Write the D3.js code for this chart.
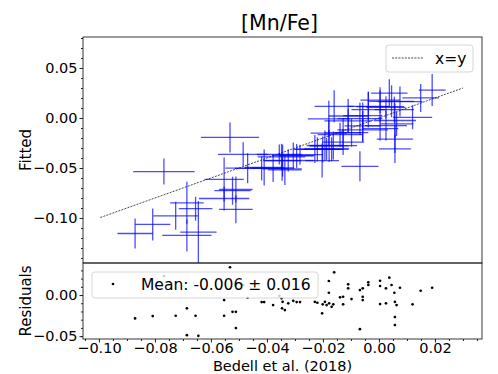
<!DOCTYPE html>
<html>
<head>
<meta charset="utf-8">
<script src="https://d3js.org/d3.v7.min.js"></script>
<style>
body { margin: 0; background: #fff; }
text { font-family: "DejaVu Sans", sans-serif; }
</style>
</head>
<body>
<div id="chart"></div>
<script>
// Bedell et al. (2018) values and errors
var bedell = [-0.0871, -0.0808, -0.0726, -0.0686, -0.0655, -0.0686, -0.0645, -0.0532, -0.0553, -0.0553,
  -0.0523, -0.0511, -0.0511, -0.0485, -0.0469, -0.0419, -0.0410, -0.0378, -0.0356, -0.0348,
  -0.0344, -0.0346, -0.0336, -0.0324, -0.0306, -0.0294, -0.0282, -0.0229, -0.0220, -0.0203,
  -0.0201, -0.0193, -0.0187, -0.0178, -0.0169, -0.0163, -0.0179, -0.0179, -0.0160, -0.0139,
  -0.0128, -0.0128, -0.0110, -0.0110, -0.0098, -0.0068, -0.0058, -0.0058, -0.0058, -0.0068,
  -0.0038, -0.0038, 0.0004, 0.0004, 0.0004, 0.0025, 0.0025, 0.0037, 0.0045, 0.0055,
  0.0057, 0.0063, 0.0057, 0.0057, 0.0075, 0.0120, 0.0149, 0.0190, -0.0768];
var bedellErr = [0.0063, 0.0063, 0.0080, 0.0060, 0.0060, 0.0088, 0.0065, 0.0104, 0.0070, 0.0090,
  0.0065, 0.0060, 0.0060, 0.0090, 0.0080, 0.0095, 0.0070, 0.0075, 0.0080, 0.0085,
  0.0065, 0.0070, 0.0060, 0.0090, 0.0075, 0.0060, 0.0080, 0.0070, 0.0085, 0.0060,
  0.0075, 0.0065, 0.0080, 0.0070, 0.0060, 0.0085, 0.0075, 0.0065, 0.0070, 0.0080,
  0.0065, 0.0075, 0.0070, 0.0085, 0.0060, 0.0080, 0.0070, 0.0065, 0.0090, 0.0066,
  0.0075, 0.0060, 0.0070, 0.0085, 0.0065, 0.0075, 0.0070, 0.0065, 0.0080, 0.0070,
  0.0075, 0.0060, 0.0065, 0.0057, 0.0080, 0.0070, 0.0065, 0.0048, 0.0110];
// fitted values and errors
var fitted = [-0.1155, -0.1064, -0.0978, -0.0848, -0.0907, -0.1174, -0.1141, -0.0194, -0.0614, -0.0805,
  -0.0727, -0.0715, -0.0913, -0.0363, -0.0502, -0.0504, -0.0495, -0.0500, -0.0365, -0.0388,
  -0.0426, -0.0508, -0.0519, -0.0425, -0.0376, -0.0379, -0.0367, -0.0311, -0.0314, -0.0426,
  -0.0314, -0.0275, -0.0309, -0.0279, -0.0312, -0.0276, -0.0008, -0.0151, 0.0117, -0.0167,
  -0.0149, -0.0241, 0.0020, -0.0028, -0.0147, -0.0007, 0.0024, -0.0079, -0.0119, -0.0483,
  0.0117, 0.0084, 0.0178, 0.0114, -0.0106, -0.0076, 0.0107, 0.0248, 0.0167, 0.0083,
  -0.0025, -0.0059, -0.0211, -0.0309, 0.0164, 0.0007, 0.0201, 0.0279, -0.0536];
var fittedErr = [0.015, 0.016, 0.014, 0.021, 0.012, 0.016, 0.031, 0.015, 0.022, 0.012,
  0.014, 0.013, 0.014, 0.012, 0.015, 0.012, 0.018, 0.014, 0.010, 0.013,
  0.016, 0.012, 0.015, 0.011, 0.013, 0.012, 0.010, 0.014, 0.012, 0.017,
  0.013, 0.015, 0.011, 0.016, 0.012, 0.014, 0.018, 0.013, 0.016, 0.012,
  0.015, 0.013, 0.017, 0.012, 0.014, 0.016, 0.013, 0.015, 0.012, 0.015,
  0.014, 0.018, 0.013, 0.016, 0.012, 0.015, 0.011, 0.014, 0.016, 0.013,
  0.017, 0.012, 0.014, 0.014, 0.015, 0.012, 0.014, 0.016, 0.013];

var xTicks = [-0.10, -0.08, -0.06, -0.04, -0.02, 0.00, 0.02];
var fitTicks = [-0.10, -0.05, 0.00, 0.05];
var resTicks = [-0.05, 0.00];
var identityLine = [-0.0995, 0.0300];
var meanLabel = "Mean: -0.006 \u00b1 0.016";

var w = 498, h = 374;
var left = 83, right = 482, top1 = 37, bot1 = 263, top2 = 263, bot2 = 339;

var svg = d3.select("#chart").append("svg")
  .attr("width", w)
  .attr("height", h);

var x = d3.scaleLinear().domain([-0.1057, 0.0368]).range([left, right]);
var y1 = d3.scaleLinear().domain([-0.145, 0.081]).range([bot1, top1]);
var y2 = d3.scaleLinear().domain([-0.0535, 0.039]).range([bot2, top2]);

var fmt = d3.format(".2f");
var ink = "#222";

var defs = svg.append("defs");
defs.append("clipPath").attr("id", "clip1").append("rect")
  .attr("x", left).attr("y", top1).attr("width", right - left).attr("height", bot1 - top1);
defs.append("clipPath").attr("id", "clip2").append("rect")
  .attr("x", left).attr("y", top2).attr("width", right - left).attr("height", bot2 - top2);

// ---- top panel: fitted vs Bedell
var g1 = svg.append("g").attr("clip-path", "url(#clip1)");

g1.append("line")
  .attr("x1", x(identityLine[0])).attr("y1", y1(identityLine[0]))
  .attr("x2", x(identityLine[1])).attr("y2", y1(identityLine[1]))
  .attr("stroke", "#333")
  .attr("stroke-width", 0.9)
  .attr("stroke-dasharray", "2,1.2");

var idx = d3.range(bedell.length);

g1.selectAll(".xerr")
  .data(idx)
  .enter()
  .append("line")
  .attr("class", "xerr")
  .attr("x1", function(i) { return x(bedell[i] - bedellErr[i]); })
  .attr("x2", function(i) { return x(bedell[i] + bedellErr[i]); })
  .attr("y1", function(i) { return y1(fitted[i]); })
  .attr("y2", function(i) { return y1(fitted[i]); })
  .attr("stroke", "blue")
  .attr("stroke-opacity", 0.7)
  .attr("stroke-width", 1.3);

g1.selectAll(".yerr")
  .data(idx)
  .enter()
  .append("line")
  .attr("class", "yerr")
  .attr("x1", function(i) { return x(bedell[i]); })
  .attr("x2", function(i) { return x(bedell[i]); })
  .attr("y1", function(i) { return y1(fitted[i] - fittedErr[i]); })
  .attr("y2", function(i) { return y1(fitted[i] + fittedErr[i]); })
  .attr("stroke", "blue")
  .attr("stroke-opacity", 0.7)
  .attr("stroke-width", 1.3);

// ---- bottom panel: residuals
var g2 = svg.append("g").attr("clip-path", "url(#clip2)");
g2.selectAll("circle")
  .data(idx)
  .enter()
  .append("circle")
  .attr("cx", function(i) { return x(bedell[i]); })
  .attr("cy", function(i) { return y2(fitted[i] - bedell[i]); })
  .attr("r", 1.35)
  .attr("fill", "black");

// ---- axes
function styleAxis(sel) {
  sel.select(".domain").remove();
  sel.selectAll(".tick line").attr("stroke", ink);
  sel.selectAll(".tick text")
    .attr("fill", "black")
    .style("font-size", "14.5px")
    .style("font-family", "DejaVu Sans");
}

svg.append("g")
  .attr("transform", "translate(0," + bot2 + ")")
  .call(d3.axisBottom(x).tickValues(xTicks).tickFormat(fmt).tickSize(3.5).tickPadding(0.5))
  .call(styleAxis);

svg.append("g")
  .attr("transform", "translate(" + left + ",0)")
  .call(d3.axisLeft(y1).tickValues(fitTicks).tickFormat(fmt).tickSize(3.5).tickPadding(2))
  .call(styleAxis);

svg.append("g")
  .attr("transform", "translate(" + left + ",0)")
  .call(d3.axisLeft(y2).tickValues(resTicks).tickFormat(fmt).tickSize(3.5).tickPadding(2))
  .call(styleAxis);

// minor ticks
var xMinor = d3.range(-21, 8).map(function(k) { return k * 0.005; });
svg.append("g")
  .attr("transform", "translate(0," + bot2 + ")")
  .call(d3.axisBottom(x).tickValues(xMinor).tickFormat("").tickSize(2))
  .call(function(s) { s.select(".domain").remove(); s.selectAll("line").attr("stroke", ink); });

var y1Minor = d3.range(-14, 9).map(function(k) { return k * 0.01; });
svg.append("g")
  .attr("transform", "translate(" + left + ",0)")
  .call(d3.axisLeft(y1).tickValues(y1Minor).tickFormat("").tickSize(2))
  .call(function(s) { s.select(".domain").remove(); s.selectAll("line").attr("stroke", ink); });

var y2Minor = d3.range(-5, 4).map(function(k) { return k * 0.01; });
svg.append("g")
  .attr("transform", "translate(" + left + ",0)")
  .call(d3.axisLeft(y2).tickValues(y2Minor).tickFormat("").tickSize(2))
  .call(function(s) { s.select(".domain").remove(); s.selectAll("line").attr("stroke", ink); });

// frames
svg.append("rect")
  .attr("x", left).attr("y", top1).attr("width", right - left).attr("height", bot1 - top1)
  .attr("fill", "none").attr("stroke", ink).attr("stroke-width", 0.9);
svg.append("rect")
  .attr("x", left).attr("y", top2).attr("width", right - left).attr("height", bot2 - top2)
  .attr("fill", "none").attr("stroke", ink).attr("stroke-width", 0.9);

// ---- legends
svg.append("rect")
  .attr("x", 386).attr("y", 45).attr("width", 87).attr("height", 27).attr("rx", 3)
  .attr("fill", "white").attr("fill-opacity", 0.8)
  .attr("stroke", "#ccc").attr("stroke-width", 0.8);
svg.append("line")
  .attr("x1", 392).attr("x2", 423).attr("y1", 58).attr("y2", 58)
  .attr("stroke", "#333").attr("stroke-width", 0.9).attr("stroke-dasharray", "2,1.2");
svg.append("text")
  .attr("x", 435).attr("y", 64)
  .style("font-size", "15.5px")
  .text("x=y");

svg.append("rect")
  .attr("x", 92).attr("y", 272).attr("width", 226).attr("height", 26).attr("rx", 3)
  .attr("fill", "white").attr("fill-opacity", 0.8)
  .attr("stroke", "#ccc").attr("stroke-width", 0.8);
svg.append("circle")
  .attr("cx", 113).attr("cy", 284).attr("r", 1.35).attr("fill", "black");
svg.append("text")
  .attr("x", 141).attr("y", 290)
  .style("font-size", "15.5px")
  .text(meanLabel);

// ---- titles and labels
svg.append("text")
  .attr("x", (left + right) / 2 - 3).attr("y", 30)
  .attr("text-anchor", "middle")
  .style("font-size", "20.5px")
  .text("[Mn/Fe]");

svg.append("text")
  .attr("x", (left + right) / 2).attr("y", 370.5)
  .attr("text-anchor", "middle")
  .style("font-size", "14.5px")
  .text("Bedell et al. (2018)");

svg.append("text")
  .attr("transform", "translate(31," + ((top1 + bot1) / 2) + ") rotate(-90)")
  .attr("text-anchor", "middle")
  .style("font-size", "15px")
  .text("Fitted");

svg.append("text")
  .attr("transform", "translate(31," + ((top2 + bot2) / 2) + ") rotate(-90)")
  .attr("text-anchor", "middle")
  .style("font-size", "15px")
  .text("Residuals");
</script>
</body>
</html>
